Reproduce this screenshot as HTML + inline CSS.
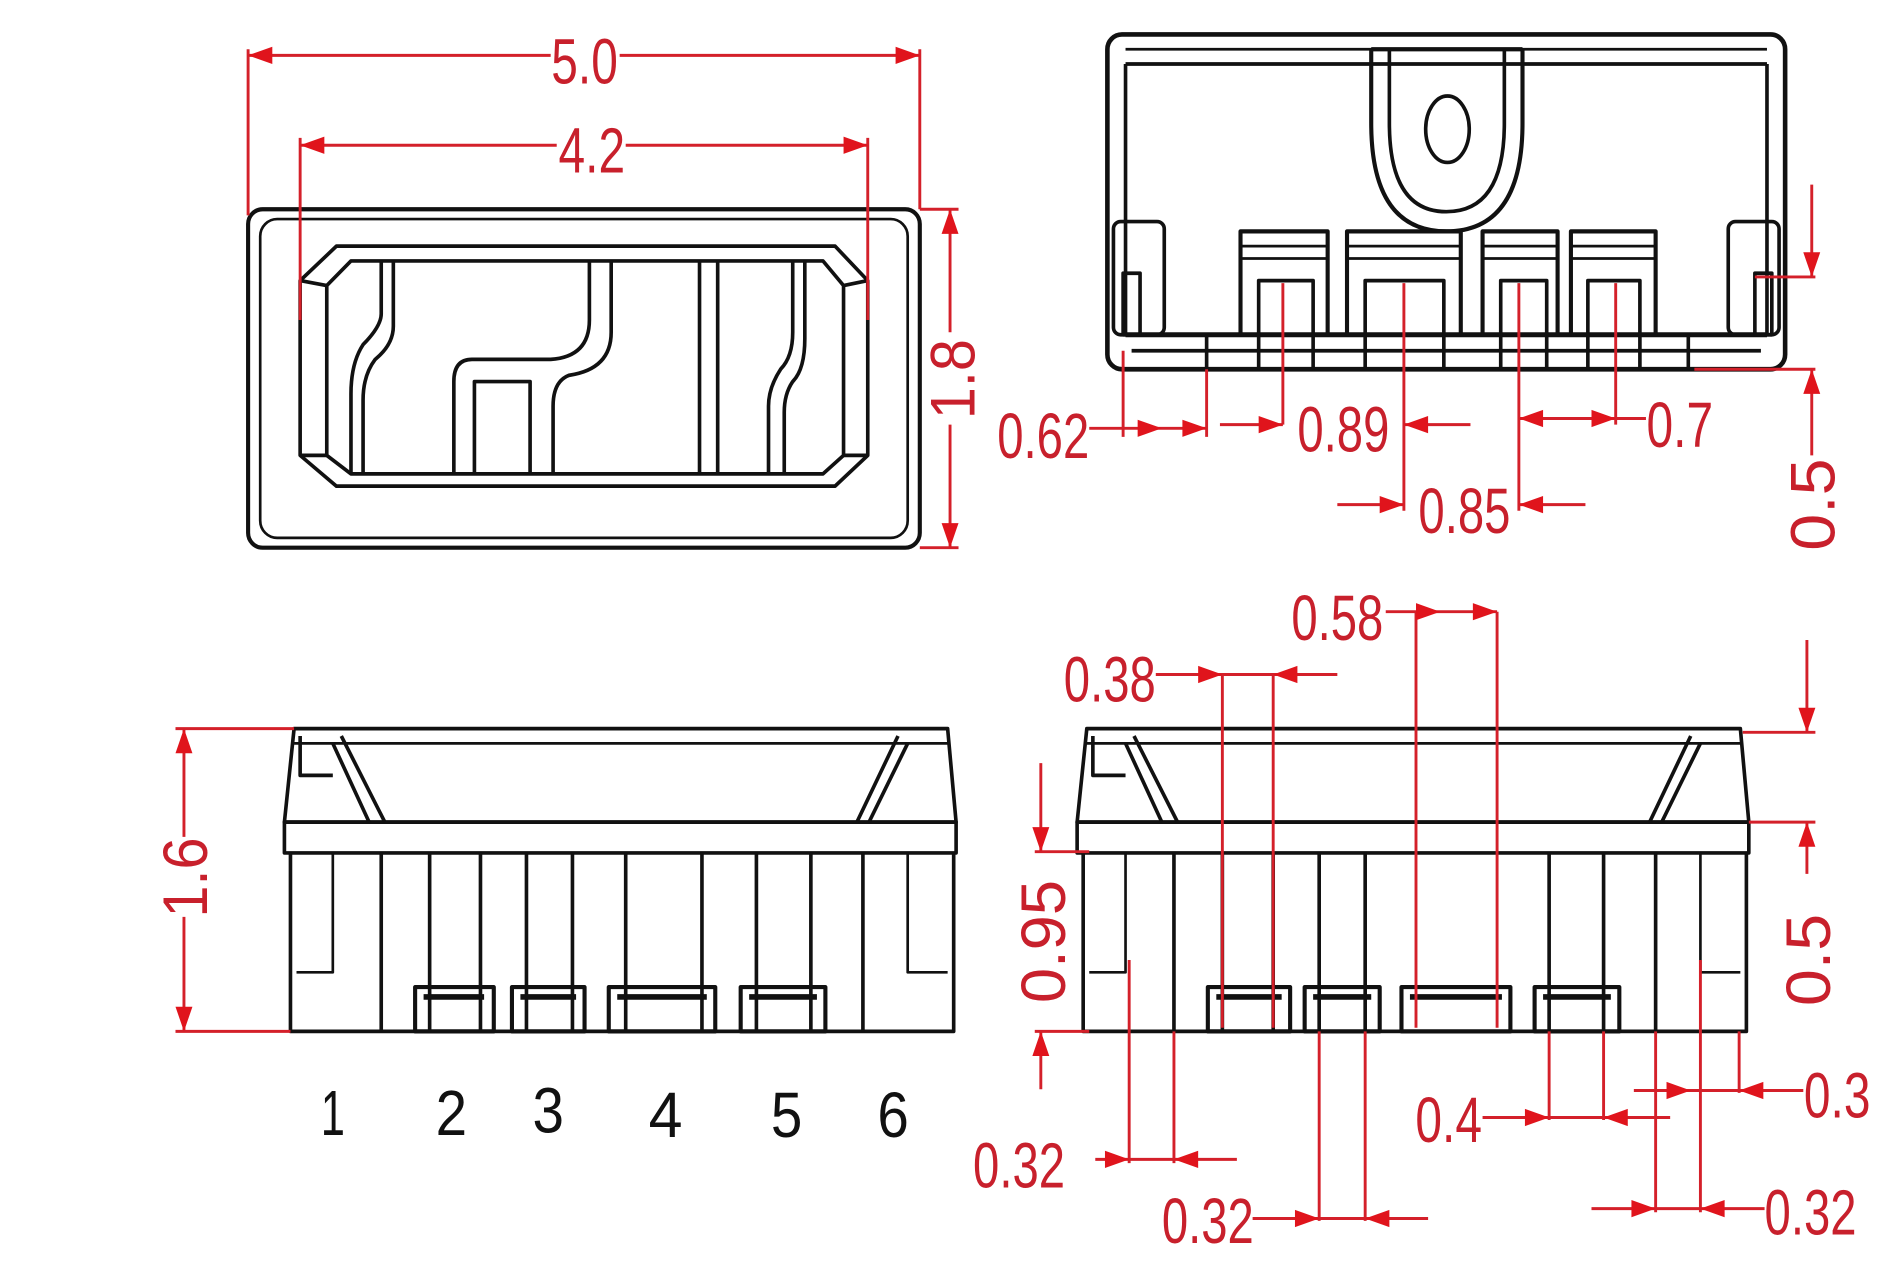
<!DOCTYPE html>
<html><head><meta charset="utf-8"><style>html,body{margin:0;padding:0;background:#fff;width:1888px;height:1280px;overflow:hidden}svg{display:block}</style></head><body>
<svg width="1888" height="1280" viewBox="0 0 1560 1040" preserveAspectRatio="none" xmlns="http://www.w3.org/2000/svg">
<g fill="none" stroke="#111" stroke-width="3" stroke-linejoin="round">
<!-- TL view -->
<rect x="205" y="170" width="555" height="275" rx="12" stroke-width="3.4"/>
<rect x="215" y="178" width="535" height="259" rx="14" stroke-width="2.2"/>
<polygon points="248,228 278,200 690,200 717,228 717,370 690,395 278,395 248,370"/>
<polygon points="270,232 290,212 680,212 697,232 697,370 680,385 290,385 270,370"/>
<line x1="248" y1="228" x2="270" y2="232"/><line x1="717" y1="228" x2="697" y2="232"/>
<line x1="248" y1="370" x2="270" y2="370"/><line x1="717" y1="370" x2="697" y2="370"/>
<path d="M315,212 V255 Q315,265 300,280 Q290,295 290,320 V385"/>
<path d="M325,212 V265 Q325,280 310,292 Q300,305 300,325 V385"/>
<path d="M487,212 V260 Q487,290 455,292 H390 Q375,292 375,310 V385"/>
<path d="M505,212 V270 Q505,300 470,305 Q457,310 457,330 V385"/>
<path d="M392,385 V310 H438 V385"/>
<line x1="578" y1="212" x2="578" y2="385"/><line x1="593" y1="212" x2="593" y2="385"/>
<path d="M655,212 V270 Q655,290 645,300 Q635,315 635,330 V385"/>
<path d="M665,212 V275 Q665,300 655,310 Q648,320 648,335 V385"/>
<!-- TR view -->
<rect x="915" y="28" width="560" height="272" rx="12" stroke-width="3.8"/>
<line x1="930" y1="52" x2="1460" y2="52"/><line x1="930" y1="40" x2="1460" y2="40" stroke-width="2.2"/>
<line x1="930" y1="52" x2="930" y2="272"/><line x1="1460" y1="52" x2="1460" y2="272"/>
<line x1="930" y1="272" x2="1460" y2="272" stroke-width="4"/>
<line x1="935" y1="285" x2="1455" y2="285"/>
<path d="M1133,40 V100 Q1133,188 1195,188 Q1258,188 1258,100 V40" stroke-width="3.4"/>
<path d="M1148,40 V100 Q1148,172 1195,172 Q1243,172 1243,100 V40"/>
<line x1="1133" y1="40" x2="1258" y2="40" stroke-width="3.4"/>
<ellipse cx="1196" cy="105" rx="18" ry="27"/>
<rect x="920" y="180" width="42" height="92" rx="6"/><rect x="928" y="222" width="14" height="50"/>
<rect x="1428" y="180" width="42" height="92" rx="6"/><rect x="1450" y="222" width="14" height="50"/>
<g stroke-width="3.4">
<rect x="1025" y="188" width="72" height="84"/><rect x="1113" y="188" width="94" height="84"/>
<rect x="1225" y="188" width="62" height="84"/><rect x="1298" y="188" width="70" height="84"/>
</g>
<g stroke-width="2.2">
<line x1="1025" y1="200" x2="1097" y2="200"/><line x1="1025" y1="210" x2="1097" y2="210"/>
<line x1="1113" y1="200" x2="1207" y2="200"/><line x1="1113" y1="210" x2="1207" y2="210"/>
<line x1="1225" y1="200" x2="1287" y2="200"/><line x1="1225" y1="210" x2="1287" y2="210"/>
<line x1="1298" y1="200" x2="1368" y2="200"/><line x1="1298" y1="210" x2="1368" y2="210"/>
</g>
<path d="M1040,300 V228 H1085 V300 M1128,300 V228 H1193 V300 M1240,300 V228 H1278 V300 M1312,300 V228 H1355 V300"/>
<path d="M997,272 V300 M1395,272 V300"/>
<!-- BL view -->
<path d="M243,592 H783 L790,668 H235 Z"/>
<rect x="235" y="668" width="555" height="25"/>
<path d="M240,693 V838 H788 V693"/>
<line x1="243" y1="604" x2="783" y2="604" stroke-width="2.2"/>
<path d="M275,604 L305,668 M282,598 L318,668 M750,604 L718,668 M742,598 L708,668 M248,598 V630 H275"/>
<path d="M275,693 V790 H245 M750,693 V790 H783" stroke-width="2.2"/>
<path d="M315,693 V838 M355,693 V838 M397,693 V838 M435,693 V838 M473,693 V838 M517,693 V838 M580,693 V838 M625,693 V838 M670,693 V838 M713,693 V838"/>
<g stroke-width="3.4"><rect x="343" y="802" width="65" height="36"/><rect x="423" y="802" width="60" height="36"/><rect x="503" y="802" width="88" height="36"/><rect x="612" y="802" width="70" height="36"/></g>
<path d="M350,810 H400 M430,810 H476 M510,810 H584 M619,810 H675" stroke-width="4.5"/>
<!-- BR view -->
<path d="M898,592 H1438 L1445,668 H890 Z"/>
<rect x="890" y="668" width="555" height="25"/>
<path d="M895,693 V838 H1443 V693"/>
<line x1="898" y1="604" x2="1438" y2="604" stroke-width="2.2"/>
<path d="M930,604 L960,668 M937,598 L973,668 M1405,604 L1373,668 M1397,598 L1363,668 M903,598 V630 H930"/>
<path d="M930,693 V790 H900 M1405,693 V790 H1438" stroke-width="2.2"/>
<path d="M970,693 V838 M1010,693 V838 M1052,693 V838 M1090,693 V838 M1128,693 V838 M1280,693 V838 M1325,693 V838 M1368,693 V838"/>
<g stroke-width="3.4"><rect x="998" y="802" width="68" height="36"/><rect x="1078" y="802" width="62" height="36"/><rect x="1158" y="802" width="90" height="36"/><rect x="1268" y="802" width="70" height="36"/></g>
<path d="M1005,810 H1059 M1085,810 H1133 M1165,810 H1241 M1275,810 H1331" stroke-width="4.5"/>
</g>
<!-- red dims -->
<g stroke="#d4202a" stroke-width="2.4" fill="none">
<path d="M205,40 V175 M760,40 V170 M205,45 H455 M512,45 H760"/>
<path d="M248,112 V260 M717,112 V260 M248,118 H460 M517,118 H717"/>
<path d="M785,170 V270 M785,345 V445 M760,170 H792 M760,445 H792"/>
<path d="M928,285 V355 M997,300 V355 M900,348 H997"/>
<path d="M1060,230 V345 M1008,345 H1060 M1160,230 V415 M1160,345 H1215 M1105,410 H1160 M1255,230 V415 M1255,410 H1310 M1335,230 V345 M1255,340 H1360"/>
<path d="M1497,150 V225 M1497,300 V370 M1450,225 H1500 M1400,300 H1500"/>
<path d="M152,592 V680 M152,745 V838 M145,592 H243 M145,838 H240"/>
<path d="M1010,548 V835 M1052,548 V835 M955,548 H1105"/>
<path d="M1170,497 V835 M1237,497 V835 M1145,497 H1237"/>
<path d="M860,620 V692 M860,838 V885 M855,692 H900 M855,838 H900"/>
<path d="M1493,520 V595 M1493,668 V710 M1440,595 H1500 M1445,668 H1500"/>
<path d="M933,780 V945 M970,838 V945 M905,942 H1022"/>
<path d="M1090,838 V992 M1128,838 V992 M1035,990 H1180"/>
<path d="M1280,838 V910 M1325,838 V910 M1225,908 H1380"/>
<path d="M1437,838 V888 M1405,780 V985 M1350,886 H1490"/>
<path d="M1368,838 V985 M1315,982 H1458"/>
</g>
<g fill="#e0141c">
<polygon points="205,45 225,38 225,52"/><polygon points="760,45 740,38 740,52"/>
<polygon points="248,118 268,111 268,125"/><polygon points="717,118 697,111 697,125"/>
<polygon points="785,170 778,190 792,190"/><polygon points="785,445 778,425 792,425"/>
<polygon points="960,348 940,341 940,355"/><polygon points="997,348 977,341 977,355"/>
<polygon points="1060,345 1040,338 1040,352"/><polygon points="1160,345 1180,338 1180,352"/>
<polygon points="1160,410 1140,403 1140,417"/><polygon points="1255,410 1275,403 1275,417"/>
<polygon points="1255,340 1275,333 1275,347"/><polygon points="1335,340 1315,333 1315,347"/>
<polygon points="1497,225 1490,205 1504,205"/><polygon points="1497,300 1490,320 1504,320"/>
<polygon points="152,592 145,612 159,612"/><polygon points="152,838 145,818 159,818"/>
<polygon points="1010,548 990,541 990,555"/><polygon points="1052,548 1072,541 1072,555"/>
<polygon points="1190,497 1170,490 1170,504"/><polygon points="1237,497 1217,490 1217,504"/>
<polygon points="860,692 853,672 867,672"/><polygon points="860,838 853,858 867,858"/>
<polygon points="1493,595 1486,575 1500,575"/><polygon points="1493,668 1486,688 1500,688"/>
<polygon points="933,942 913,935 913,949"/><polygon points="970,942 990,935 990,949"/>
<polygon points="1090,990 1070,983 1070,997"/><polygon points="1128,990 1148,983 1148,997"/>
<polygon points="1280,908 1260,901 1260,915"/><polygon points="1325,908 1345,901 1345,915"/>
<polygon points="1397,886 1377,879 1377,893"/><polygon points="1437,886 1457,879 1457,893"/>
<polygon points="1368,982 1348,975 1348,989"/><polygon points="1405,982 1425,975 1425,989"/>
</g>
<g fill="#c8202c" font-family="'Liberation Sans',sans-serif" font-size="52" text-anchor="middle">
<text x="483" y="68" textLength="55" lengthAdjust="spacingAndGlyphs">5.0</text>
<text x="489" y="140" textLength="55" lengthAdjust="spacingAndGlyphs">4.2</text>
<text transform="translate(805,308) rotate(-90)" textLength="65" lengthAdjust="spacingAndGlyphs">1.8</text>
<text x="862" y="372" textLength="76" lengthAdjust="spacingAndGlyphs">0.62</text>
<text x="1110" y="367" textLength="76" lengthAdjust="spacingAndGlyphs">0.89</text>
<text x="1210" y="433" textLength="76" lengthAdjust="spacingAndGlyphs">0.85</text>
<text x="1388" y="363" textLength="55" lengthAdjust="spacingAndGlyphs">0.7</text>
<text transform="translate(1516,410) rotate(-90)" textLength="75" lengthAdjust="spacingAndGlyphs">0.5</text>
<text transform="translate(171,713) rotate(-90)" textLength="65" lengthAdjust="spacingAndGlyphs">1.6</text>
<text x="917" y="570" textLength="76" lengthAdjust="spacingAndGlyphs">0.38</text>
<text x="1105" y="520" textLength="76" lengthAdjust="spacingAndGlyphs">0.58</text>
<text transform="translate(880,765) rotate(-90)" textLength="100" lengthAdjust="spacingAndGlyphs">0.95</text>
<text transform="translate(1512,780) rotate(-90)" textLength="75" lengthAdjust="spacingAndGlyphs">0.5</text>
<text x="842" y="965" textLength="76" lengthAdjust="spacingAndGlyphs">0.32</text>
<text x="998" y="1010" textLength="76" lengthAdjust="spacingAndGlyphs">0.32</text>
<text x="1197" y="928" textLength="55" lengthAdjust="spacingAndGlyphs">0.4</text>
<text x="1518" y="908" textLength="55" lengthAdjust="spacingAndGlyphs">0.3</text>
<text x="1496" y="1003" textLength="76" lengthAdjust="spacingAndGlyphs">0.32</text>
</g>
<g fill="#111" font-family="'Liberation Sans',sans-serif" font-size="52" text-anchor="middle">
<text x="275" y="922" textLength="20" lengthAdjust="spacingAndGlyphs">1</text>
<text x="373" y="922" textLength="26" lengthAdjust="spacingAndGlyphs">2</text>
<text x="453" y="920" textLength="26" lengthAdjust="spacingAndGlyphs">3</text>
<text x="550" y="924" textLength="28" lengthAdjust="spacingAndGlyphs">4</text>
<text x="650" y="924" textLength="26" lengthAdjust="spacingAndGlyphs">5</text>
<text x="738" y="924" textLength="26" lengthAdjust="spacingAndGlyphs">6</text>
</g>
</svg>
</body></html>
